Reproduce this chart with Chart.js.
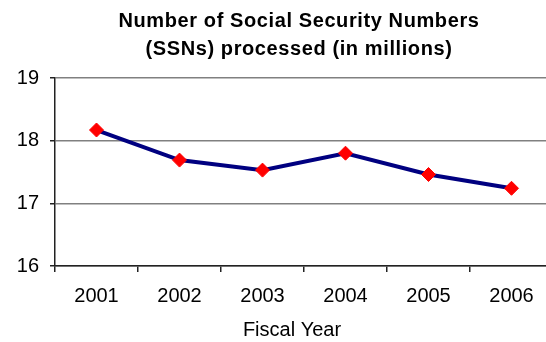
<!DOCTYPE html>
<html>
<head>
<meta charset="utf-8">
<script src="https://cdn.jsdelivr.net/npm/chart.js@4"></script>
<style>
  html, body { margin: 0; padding: 0; background: #fff; overflow: hidden; }
  #wrap { width: 546px; height: 342px; overflow: hidden; }
</style>
</head>
<body>
<div id="wrap"><canvas id="ssnChart" width="600" height="342"></canvas></div>
<script>
const years = ['2001', '2002', '2003', '2004', '2005', '2006'];
const ssnMillions = [18.17, 17.69, 17.53, 17.80, 17.46, 17.24];
const yTicks = [16, 17, 18, 19];
const titleLines = ['Number of Social Security Numbers', '(SSNs) processed (in millions)'];
const xAxisTitle = 'Fiscal Year';

const FONT = 'Arial, "Liberation Sans", sans-serif';

// titles are drawn by hand so they can get some letter spacing
const titlePlugin = {
  id: 'spacedTitles',
  afterDraw(chart) {
    const ctx = chart.ctx;
    ctx.save();
    ctx.fillStyle = '#000';
    ctx.textAlign = 'center';
    ctx.textBaseline = 'alphabetic';
    ctx.font = 'bold 20px ' + FONT;
    ctx.letterSpacing = '0.6px';
    ctx.fillText(titleLines[0], 299, 27);
    ctx.fillText(titleLines[1], 299, 55);
    ctx.letterSpacing = '0px';
    ctx.font = '20px ' + FONT;
    ctx.fillText(xAxisTitle, 292, 336);
    ctx.restore();
  }
};

new Chart(document.getElementById('ssnChart'), {
  type: 'line',
  data: {
    labels: years,
    datasets: [{
      data: ssnMillions,
      borderColor: '#000080',
      borderWidth: 4,
      tension: 0,
      pointStyle: 'rectRot',
      pointRadius: 7,
      pointBackgroundColor: '#ff0000',
      pointBorderColor: '#ff0000',
      pointBorderWidth: 1
    }]
  },
  options: {
    responsive: false,
    animation: false,
    layout: { padding: { top: 78, right: 47, bottom: 0, left: 0 } },
    plugins: {
      legend: { display: false },
      tooltip: { enabled: false },
      title: { display: false }
    },
    scales: {
      x: {
        offset: true,
        grid: {
          offset: true,
          drawOnChartArea: false,
          tickLength: 6,
          tickColor: '#222',
          lineWidth: 1.5
        },
        border: { color: '#222', width: 1.5 },
        ticks: {
          color: '#000',
          padding: 12,
          maxRotation: 0,
          font: { family: FONT, size: 20 }
        },
        afterFit(scale) { scale.height = 76; }
      },
      y: {
        min: 16,
        max: 19,
        grid: {
          color: '#808080',
          lineWidth: 1.5,
          tickLength: 5,
          tickColor: '#222'
        },
        border: { color: '#222', width: 1.5 },
        ticks: {
          color: '#000',
          padding: 11,
          font: { family: FONT, size: 20 }
        },
        afterBuildTicks(scale) { scale.ticks = yTicks.map(v => ({ value: v })); },
        afterFit(scale) { scale.width = 55; }
      }
    }
  },
  plugins: [titlePlugin]
});
</script>
</body>
</html>
